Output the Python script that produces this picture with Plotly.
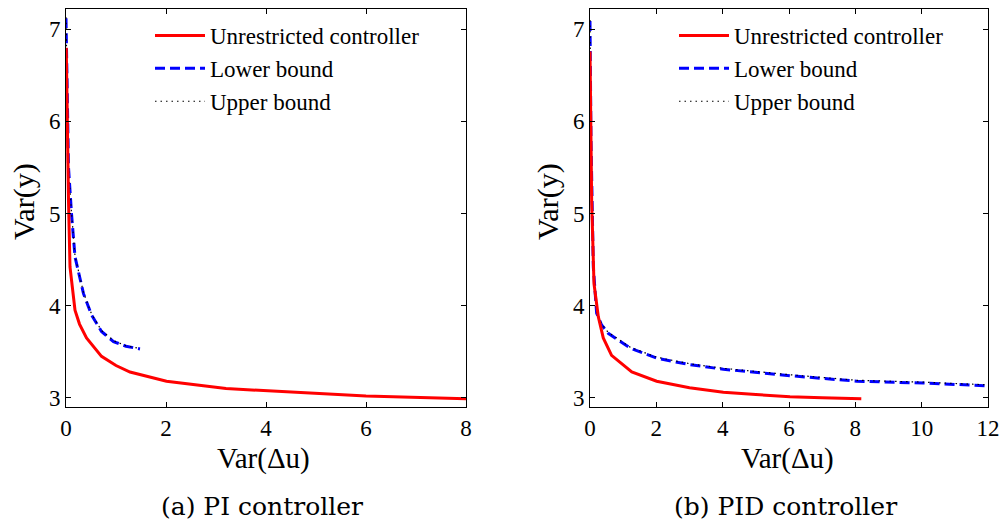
import plotly.graph_objects as go

W, H = 1002, 525

# ---- data ----
pi_unres_x = [0.005, 0.02, 0.05, 0.08, 0.12, 0.18, 0.27, 0.41, 0.71, 1.0, 1.28, 2.01, 3.2, 4.5, 6.0, 8.0]
pi_unres_y = [6.8, 6.0, 5.14, 4.42, 4.2, 3.95, 3.8, 3.65, 3.45, 3.35, 3.28, 3.18, 3.1, 3.06, 3.02, 2.99]
pi_lower_x = [0.0, 0.02, 0.05, 0.11, 0.18, 0.35, 0.51, 0.71, 0.95, 1.2, 1.48]
pi_lower_y = [7.12, 6.3, 5.5, 5.0, 4.53, 4.13, 3.9, 3.72, 3.61, 3.56, 3.53]
pi_upper_x = [0.0, 0.02, 0.05, 0.11, 0.18, 0.35, 0.51, 0.71, 0.95, 1.2, 1.48]
pi_upper_y = [7.13, 6.31, 5.51, 5.01, 4.54, 4.14, 3.91, 3.73, 3.62, 3.565, 3.535]

pid_unres_x = [0.0, 0.02, 0.05, 0.12, 0.25, 0.40, 0.65, 1.26, 2.01, 3.0, 4.02, 5.0, 6.03, 7.0, 8.18]
pid_unres_y = [6.76, 5.9, 5.14, 4.24, 3.88, 3.65, 3.46, 3.28, 3.18, 3.11, 3.06, 3.035, 3.01, 3.0, 2.99]
pid_lower_x = [0.0, 0.03, 0.1, 0.2, 0.35, 0.55, 1.21, 2.01, 3.0, 4.02, 6.03, 8.04, 10.05, 12.0]
pid_lower_y = [7.09, 5.8, 4.42, 3.92, 3.79, 3.70, 3.54, 3.43, 3.36, 3.31, 3.24, 3.18, 3.16, 3.13]
pid_upper_x = [0.0, 0.03, 0.1, 0.2, 0.35, 0.55, 1.21, 2.01, 3.0, 4.02, 6.03, 8.04, 10.05, 12.0]
pid_upper_y = [7.10, 5.81, 4.43, 3.93, 3.80, 3.71, 3.55, 3.44, 3.37, 3.32, 3.25, 3.19, 3.17, 3.14]

pi_xticks = [0, 2, 4, 6, 8]
pid_xticks = [0, 2, 4, 6, 8, 10, 12]
y_ticks = [3, 4, 5, 6, 7]

series_names = ["Unrestricted controller", "Lower bound", "Upper bound"]
captions = ["(a) PI controller", "(b) PID controller"]
x_title = "Var(Δu)"
y_title = "Var(y)"

SERIF = "Liberation Serif, Times New Roman, serif"

fig = go.Figure()

def add_panel(xa, ya, legend, ux, uy, lx, ly, upx, upy):
    fig.add_trace(go.Scatter(x=lx, y=ly, mode="lines", name=series_names[1],
                             line=dict(color="#0000ff", width=3, dash="10px,5px"),
                             xaxis=xa, yaxis=ya, legend=legend, legendrank=2))
    fig.add_trace(go.Scatter(x=upx, y=upy, mode="lines", name=series_names[2],
                             line=dict(color="black", width=1.2, dash="1.5px,4px"),
                             xaxis=xa, yaxis=ya, legend=legend, legendrank=3))
    fig.add_trace(go.Scatter(x=ux, y=uy, mode="lines", name=series_names[0],
                             line=dict(color="#ff0000", width=3),
                             xaxis=xa, yaxis=ya, legend=legend, legendrank=1))

add_panel("x", "y", "legend", pi_unres_x, pi_unres_y, pi_lower_x, pi_lower_y, pi_upper_x, pi_upper_y)
add_panel("x2", "y2", "legend2", pid_unres_x, pid_unres_y, pid_lower_x, pid_lower_y, pid_upper_x, pid_upper_y)

def px_x(p):
    return p / W

def px_y(p):
    return 1 - p / H

axis_common = dict(showline=True, linecolor="black", linewidth=1, mirror="ticks",
                   ticks="inside", ticklen=5, tickcolor="black", tickwidth=1,
                   showgrid=False, zeroline=False, automargin=False,
                   tickfont=dict(family=SERIF, size=23, color="black"))

yrange = [2.9, 7.22]
leg_common = dict(xanchor="left", yanchor="top", bgcolor="rgba(0,0,0,0)", borderwidth=0,
                  font=dict(family=SERIF, size=23, color="black"), tracegroupgap=0,
                  itemwidth=50)
fig.update_layout(
    width=W, height=H,
    margin=dict(l=0, r=0, t=0, b=0, pad=0, autoexpand=False),
    paper_bgcolor="white", plot_bgcolor="white",
    xaxis=dict(domain=[px_x(66), px_x(466)], range=[0, 8], tickvals=pi_xticks, anchor="y", **axis_common),
    yaxis=dict(domain=[px_y(407), px_y(9)], range=yrange, tickvals=y_ticks, anchor="x", **axis_common),
    xaxis2=dict(domain=[px_x(590), px_x(988)], range=[0, 12], tickvals=pid_xticks, anchor="y2", **axis_common),
    yaxis2=dict(domain=[px_y(407), px_y(9)], range=yrange, tickvals=y_ticks, anchor="x2", **axis_common),
    legend=dict(x=px_x(150), y=px_y(14), **leg_common),
    legend2=dict(x=px_x(674), y=px_y(14), **leg_common),
    showlegend=True,
)

annos = [
    dict(text=y_title, x=px_x(24), y=px_y(202), textangle=-90, size=30, fam=SERIF),
    dict(text=y_title, x=px_x(548), y=px_y(202), textangle=-90, size=30, fam=SERIF),
    dict(text=x_title, x=px_x(263), y=px_y(458), textangle=0, size=29, fam=SERIF),
    dict(text=x_title, x=px_x(787), y=px_y(458), textangle=0, size=29, fam=SERIF),
    dict(text=captions[0], x=px_x(262), y=px_y(506), textangle=0, size=25, fam="DejaVu Serif, serif"),
    dict(text=captions[1], x=px_x(785), y=px_y(506), textangle=0, size=25, fam="DejaVu Serif, serif"),
]
for a in annos:
    fig.add_annotation(text=a["text"], x=a["x"], y=a["y"], xref="paper", yref="paper",
                       xanchor="center", yanchor="middle", showarrow=False,
                       textangle=a["textangle"],
                       font=dict(family=a["fam"], size=a["size"], color="black"))

fig.write_html("out.html", config={"displayModeBar": False},
               post_script="document.body.style.margin='0';document.body.style.padding='0';"
                           "document.documentElement.style.overflow='hidden';")
